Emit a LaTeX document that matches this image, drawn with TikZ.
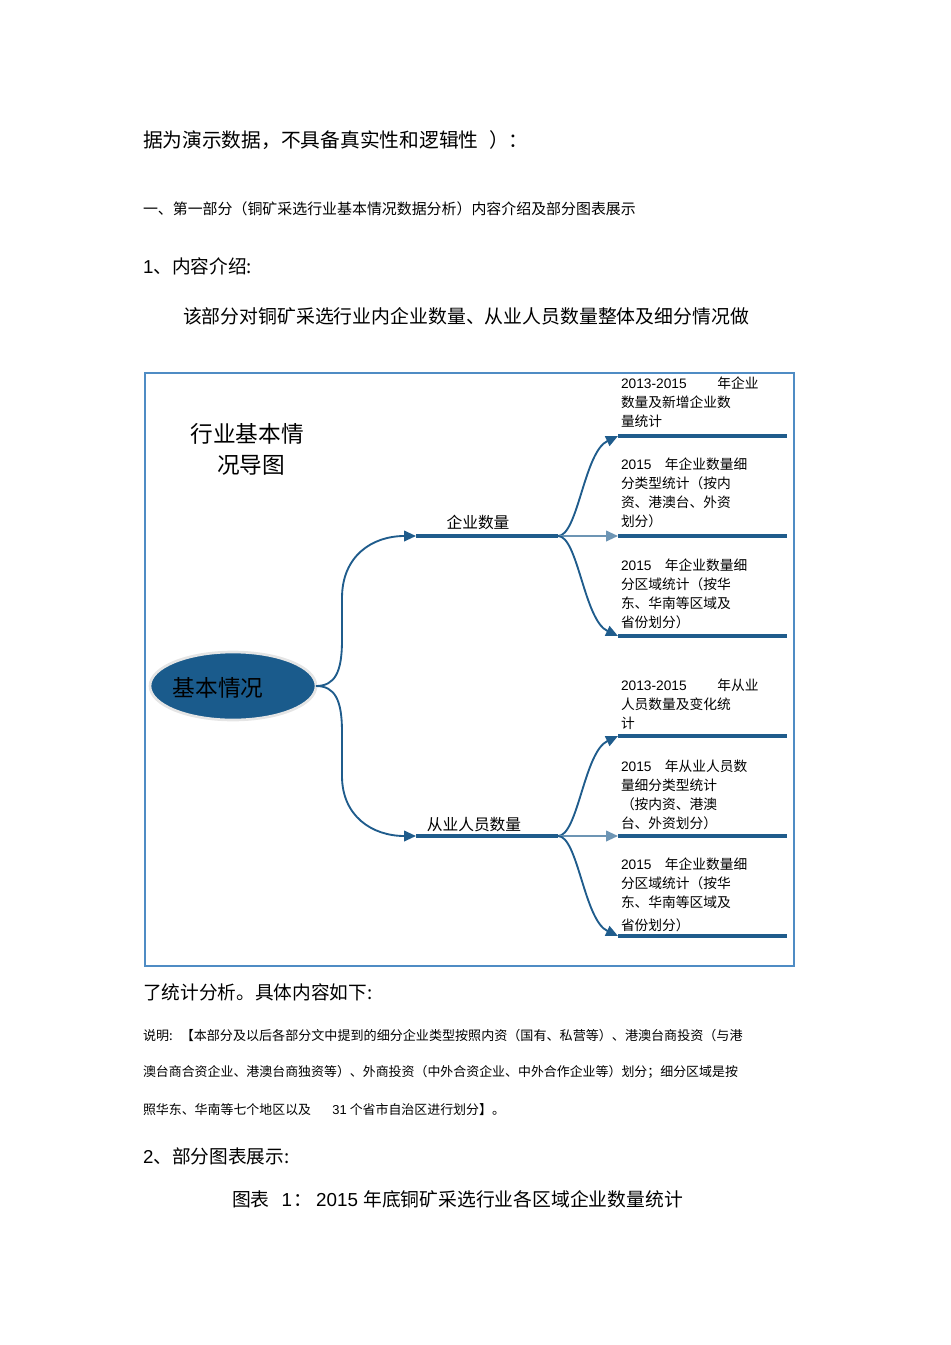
\documentclass[tikz,border=0pt]{standalone}
\usepackage{fontspec}
\setmainfont{Noto Sans CJK SC}
\newfontfamily\lat{Liberation Sans}
\usetikzlibrary{arrows.meta,shapes.geometric}
\definecolor{barblue}{HTML}{1F5C8C}
\definecolor{ellblue}{HTML}{1A5B8C}
\definecolor{frameblue}{HTML}{4F8CC4}
\begin{document}
\begin{tikzpicture}[x=0.75pt,y=-0.75pt,
  every node/.style={inner sep=0pt, outer sep=0pt},
  bigtxt/.style={font=\fontsize{14pt}{17pt}\selectfont, anchor=west},
  midtxt/.style={font=\fontsize{11.2pt}{13pt}\selectfont, anchor=west},
  smalltxt/.style={font=\fontsize{9.7pt}{12pt}\selectfont, anchor=west},
  leaf/.style={font=\fontsize{10.3pt}{14.25pt}\selectfont, align=left, anchor=north west},
  branchlbl/.style={font=\fontsize{11.8pt}{14pt}\selectfont},
  bar/.style={draw=barblue, line width=3pt},
  link/.style={draw=barblue, line width=1.4pt, -{Triangle[length=9pt,width=8pt]}},
  straightlink/.style={link, draw=barblue!65}
]
\useasboundingbox (0,0) rectangle (950,1345);

% body text above
\node[bigtxt, font=\fontsize{14.8pt}{17pt}\selectfont] (t1) at (143,140) {据为演示数据，不具备真实性和逻辑性\hspace{8pt}）：};
\node[midtxt] (t2) at (143,209) {一、第一部分（铜矿采选行业基本情况数据分析）内容介绍及部分图表展示};
\node[bigtxt] (t3) at (143,266) {{\lat 1}、内容介绍:};
\node[bigtxt, font=\fontsize{14.15pt}{17pt}\selectfont] (t4) at (183,316) {该部分对铜矿采选行业内企业数量、从业人员数量整体及细分情况做};

% frame
\draw[frameblue, line width=0.8pt] (145,373) rectangle (794,966);

% title
\node[font=\fontsize{17pt}{23.25pt}\selectfont, align=center] (title) at (247,449) {行业基本情\\\hspace*{6pt}况导图};

% root
\node[ellipse, fill=ellblue, draw=black!10, line width=2pt, minimum width=124.5pt, minimum height=51pt] (root) at (233,686) {};
\node[font=\fontsize{17pt}{20pt}\selectfont] (rootlbl) at (218,688) {基本情况};

% branch coordinates
\coordinate (e1s) at (416,536);
\coordinate (e1e) at (558,536);
\coordinate (e2s) at (416,836);
\coordinate (e2e) at (558,836);
\foreach \n/\y in {1/436,2/536,3/636,4/736,5/836,6/936}{
  \coordinate (l\n s) at (618,\y);
  \coordinate (l\n e) at (787,\y);
}

% main branches
\draw[link] (root.east) .. controls (335,686) and (342,672) .. (342,640) -- (342,598) .. controls (342,556) and (372,536) .. (e1s);
\draw[link] (root.east) .. controls (335,686) and (342,700) .. (342,732) -- (342,776) .. controls (342,816) and (372,836) .. (e2s);
\draw[bar] (e1s) -- (e1e);
\draw[bar] (e2s) -- (e2e);
\node[branchlbl] (b1) at (478,522) {企业数量};
\node[branchlbl] (b2) at (474,825) {从业人员数量};

% sub branches
\draw[link] (e1e) .. controls (578,536) and (584,452) .. (l1s);
\draw[straightlink] (e1e) -- (l2s);
\draw[link] (e1e) .. controls (578,536) and (584,620) .. (l3s);
\draw[link] (e2e) .. controls (578,836) and (584,752) .. (l4s);
\draw[straightlink] (e2e) -- (l5s);
\draw[link] (e2e) .. controls (578,836) and (584,920) .. (l6s);
\foreach \n in {1,...,6}{ \draw[bar] (l\n s) -- (l\n e); }

% leaves
\node[leaf] (x1) at (621,377) {{\lat 2013-2015}\hspace{23pt}年企业\\数量及新增企业数\\量统计};
\node[leaf] (x2) at (621,458) {{\lat 2015}\hspace{10pt}年企业数量细\\分类型统计（按内\\资、港澳台、外资\\划分）};
\node[leaf] (x3) at (621,559) {{\lat 2015}\hspace{10pt}年企业数量细\\分区域统计（按华\\东、华南等区域及\\省份划分）};
\node[leaf] (x4) at (621,679) {{\lat 2013-2015}\hspace{23pt}年从业\\人员数量及变化统\\计};
\node[leaf] (x5) at (621,760) {{\lat 2015}\hspace{10pt}年从业人员数\\量细分类型统计\\（按内资、港澳\\台、外资划分）};
\node[leaf] (x6) at (621,858) {{\lat 2015}\hspace{10pt}年企业数量细\\分区域统计（按华\\东、华南等区域及\\[3pt]省份划分）};

% body text below
\node[bigtxt] (t5) at (143,992) {了统计分析。具体内容如下:};
\node[smalltxt, font=\fontsize{9.8pt}{12pt}\selectfont] (t6) at (143,1036) {说明:\hspace{6pt}【本部分及以后各部分文中提到的细分企业类型按照内资（国有、私营等）、港澳台商投资（与港};
\node[smalltxt] (t7) at (143,1072) {澳台商合资企业、港澳台商独资等）、外商投资（中外合资企业、中外合作企业等）划分；细分区域是按};
\node[smalltxt] (t8) at (143,1110) {照华东、华南等七个地区以及\hspace{16pt}{\lat 31} 个省市自治区进行划分】。};
\node[bigtxt] (t9) at (143,1156) {{\lat 2}、部分图表展示:};
\node[bigtxt, font=\fontsize{14.1pt}{17pt}\selectfont] (t10) at (232,1199) {图表\hspace{9pt}{\lat 1}\hspace{1pt}：\hspace{3pt}{\lat 2015}\hspace{4pt}年底铜矿采选行业各区域企业数量统计};
\end{tikzpicture}
\end{document}
